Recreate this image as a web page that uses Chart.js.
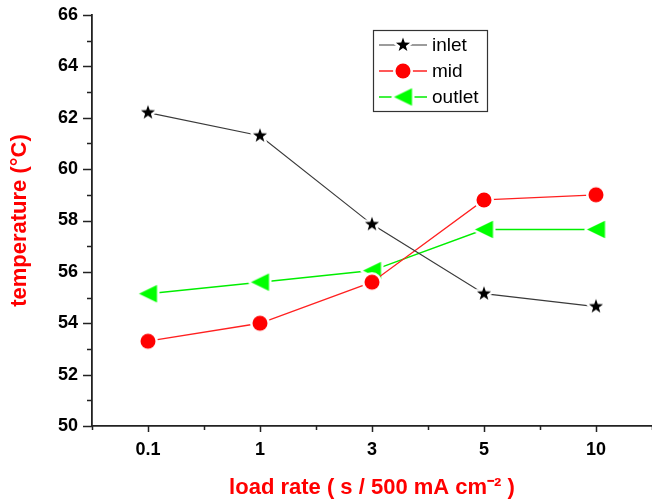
<!DOCTYPE html>
<html>
<head>
<meta charset="utf-8">
<script src="https://cdn.jsdelivr.net/npm/chart.js@4.4.1/dist/chart.umd.min.js"></script>
<style>
  html, body { margin: 0; padding: 0; background: #fff; }
  #wrap { width: 652px; height: 504px; }
</style>
</head>
<body>
<div id="wrap"><canvas id="chart" width="652" height="504"></canvas></div>
<script>
// Load-rate categories (x axis) and the three thermocouple readings (°C)
const loadRates = ['0.1', '1', '3', '5', '10'];
const inletTemp = [62.2, 61.3, 57.85, 55.15, 54.65];
const midTemp = [53.3, 54.0, 55.6, 58.8, 59.0];
const outletTemp = [55.15, 55.6, 56.05, 57.65, 57.65];
const seriesNames = ['inlet', 'mid', 'outlet'];
const tempMin = 50;
const tempMax = 66;

const FONT = "'Liberation Sans', Arial, Helvetica, sans-serif";

// Marker images with a white halo so the connecting lines stop short of them
function markerCanvas(pathFn, half, fill, halo) {
  const size = Math.ceil(2 * (half + halo)) + 2;
  const c = document.createElement('canvas');
  c.width = size; c.height = size;
  const g = c.getContext('2d');
  g.beginPath();
  pathFn(g, size / 2, size / 2);
  g.closePath();
  g.lineJoin = 'round';
  g.strokeStyle = '#fff';
  g.lineWidth = halo * 2;
  g.stroke();
  g.fillStyle = fill;
  g.fill();
  return c;
}
const starImg = markerCanvas((g, cx, cy) => {
  const R = 7.4, r = 3.0;
  for (let i = 0; i < 10; i++) {
    const rad = i % 2 === 0 ? R : r;
    const a = -Math.PI / 2 + i * Math.PI / 5;
    g.lineTo(cx + rad * Math.cos(a), cy + rad * Math.sin(a));
  }
}, 7.5, '#000', 2.5);
const triImg = markerCanvas((g, cx, cy) => {
  g.moveTo(cx - 9, cy);
  g.lineTo(cx + 9, cy - 8.7);
  g.lineTo(cx + 9, cy + 8.7);
}, 9, '#00ff00', 2.5);
const dotImg = markerCanvas((g, cx, cy) => {
  g.arc(cx, cy, 7.5, 0, Math.PI * 2);
}, 7.5, '#ff0000', 2.5);

const toPoints = arr => arr.map((v, i) => ({ x: i, y: v }));

const isWhole = v => Math.abs(v - Math.round(v)) < 1e-6;

// Outward tick marks: long at labelled values, short in between
const tickMarks = {
  id: 'tickMarks',
  afterDraw(chart) {
    const ctx = chart.ctx;
    const xs = chart.scales.x, ys = chart.scales.y;
    ctx.save();
    ctx.strokeStyle = '#222';
    ctx.lineWidth = 1.5;
    ctx.beginPath();
    xs.ticks.forEach(t => {
      const px = Math.round(xs.getPixelForValue(t.value)) + 0.5;
      const len = isWhole(t.value) ? 6 : 4;
      ctx.moveTo(px, xs.top);
      ctx.lineTo(px, xs.top + len);
    });
    ys.ticks.forEach(t => {
      const py = Math.round(ys.getPixelForValue(t.value)) + 0.5;
      const len = Math.round(t.value) % 2 === 0 ? 9 : 5;
      ctx.moveTo(ys.right, py);
      ctx.lineTo(ys.right - len, py);
    });
    ctx.stroke();
    ctx.restore();
  }
};

// Boxed legend with line-and-marker samples
const boxLegend = {
  id: 'boxLegend',
  afterDraw(chart) {
    const ctx = chart.ctx;
    const x0 = 373, y0 = 30, w = 114, h = 81;
    const rowY = [45, 71, 97];
    ctx.save();
    ctx.fillStyle = '#fff';
    ctx.fillRect(x0, y0, w, h);
    ctx.strokeStyle = '#333';
    ctx.lineWidth = 1.2;
    ctx.strokeRect(x0 + 0.5, y0 + 0.5, w, h);
    chart.data.datasets.forEach((ds, i) => {
      const y = rowY[i];
      ctx.strokeStyle = ds.borderColor;
      ctx.lineWidth = ds.borderWidth;
      ctx.beginPath();
      ctx.moveTo(379, y);
      ctx.lineTo(427, y);
      ctx.stroke();
      const img = ds.pointStyle;
      ctx.drawImage(img, 403 - img.width / 2, y - img.height / 2);
      ctx.fillStyle = '#000';
      ctx.font = '19px ' + FONT;
      ctx.textBaseline = 'middle';
      ctx.textAlign = 'left';
      ctx.fillText(ds.label, 432, y + 1);
    });
    ctx.restore();
  }
};

new Chart(document.getElementById('chart'), {
  type: 'line',
  data: {
    datasets: [
      { label: seriesNames[0], data: toPoints(inletTemp), borderColor: '#3a3a3a', borderWidth: 1.2, pointStyle: starImg },
      { label: seriesNames[1], data: toPoints(midTemp), borderColor: '#ff2020', borderWidth: 1.3, pointStyle: dotImg },
      { label: seriesNames[2], data: toPoints(outletTemp), borderColor: '#00ee00', borderWidth: 1.5, pointStyle: triImg }
    ]
  },
  options: {
    responsive: false,
    animation: false,
    events: [],
    devicePixelRatio: 1,
    layout: { autoPadding: false, padding: { top: 15, right: 0, left: 0, bottom: 0 } },
    elements: { line: { tension: 0 }, point: { radius: 9 } },
    plugins: { legend: { display: false }, tooltip: { enabled: false } },
    scales: {
      x: {
        type: 'linear',
        min: -0.5,
        max: 4.5,
        afterFit: s => { s.height = 78; s.paddingLeft = 0; s.paddingRight = 0; },
        grid: { display: true, drawOnChartArea: false, drawTicks: false },
        border: { display: true, color: '#222', width: 1.8 },
        ticks: {
          stepSize: 0.5,
          autoSkip: false,
          maxRotation: 0,
          padding: 13,
          color: '#000',
          font: { family: FONT, size: 18, weight: 'bold' },
          callback: v => isWhole(v) && v >= 0 ? loadRates[Math.round(v)] : ''
        },
        title: {
          display: true,
          text: 'load rate ( s / 500 mA cm⁻² )',
          color: '#ff0000',
          font: { family: FONT, size: 22, weight: 'bold' },
          padding: { top: 0, bottom: 3 }
        }
      },
      y: {
        min: tempMin,
        max: tempMax,
        afterFit: s => { s.width = 92; s.paddingTop = 0; s.paddingBottom = 0; },
        grid: { display: true, drawOnChartArea: false, drawTicks: false },
        border: { display: true, color: '#222', width: 1.8 },
        ticks: {
          stepSize: 1,
          autoSkip: false,
          padding: 14,
          color: '#000',
          font: { family: FONT, size: 18, weight: 'bold' },
          callback: v => Math.round(v) % 2 === 0 ? String(v) : ''
        },
        title: {
          display: true,
          text: 'temperature (°C)',
          color: '#ff0000',
          font: { family: FONT, size: 22, weight: 'bold' },
          padding: { top: 7, bottom: 0 }
        }
      }
    }
  },
  plugins: [tickMarks, boxLegend]
});
</script>
</body>
</html>
